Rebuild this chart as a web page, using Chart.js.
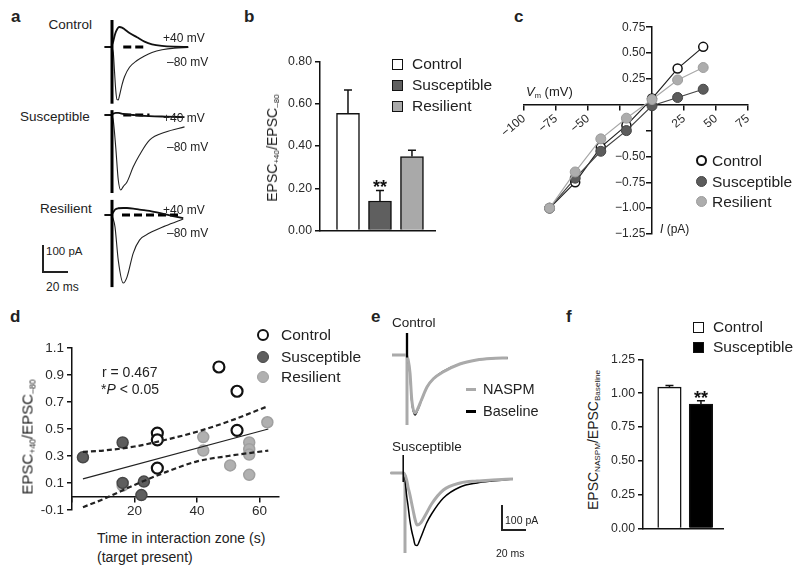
<!DOCTYPE html>
<html>
<head>
<meta charset="utf-8">
<script src="https://cdn.jsdelivr.net/npm/chart.js@4.4.0/dist/chart.umd.min.js"></script>
<style>
  * { box-sizing: border-box; }
  body { margin: 0; background: #fff; }
  #fig { position: relative; width: 800px; height: 572px; overflow: hidden;
         font-family: "Liberation Sans", Arial, sans-serif; color: #222; }
  #fig canvas { position: absolute; }
  .t { position: absolute; white-space: nowrap; line-height: 1; transform: translateY(-50%); }
  .r { transform: translate(-100%, -50%); }
  .p { font-weight: bold; font-size: 17px; }
  .rot { position: absolute; white-space: nowrap; line-height: 1; font-size: 14px; font-weight: normal;
         color: #222; transform: translate(-50%, -50%) rotate(-90deg); }
  sub { font-size: 0.58em; vertical-align: -0.3em; line-height: 0; }
  .sq { position: absolute; width: 11px; height: 11px; border: 1.5px solid #111; }
  .dot { position: absolute; width: 11px; height: 11px; border-radius: 50%; }
  .ln { position: absolute; background: #222; }
  .leg { font-size: 15.5px; }
</style>
</head>
<body>
<div id="fig">
  <!-- panel labels -->
  <div class="t p" style="left:11px;top:16px">a</div>
  <div class="t p" style="left:244px;top:16px">b</div>
  <div class="t p" style="left:514px;top:16px">c</div>
  <div class="t p" style="left:10px;top:316px">d</div>
  <div class="t p" style="left:371px;top:316px">e</div>
  <div class="t p" style="left:566px;top:316px">f</div>

  <!-- a -->
  <canvas id="chartA" width="110" height="300" style="left:95px;top:0px"></canvas>
  <div class="t" style="left:46px;top:25px;font-size:13.5px;width:46px;text-align:right;direction:rtl">Control</div>
  <div class="t" style="left:20px;top:117px;font-size:13.5px">Susceptible</div>
  <div class="t" style="left:40px;top:209px;font-size:13.5px">Resilient</div>
  <div class="t" style="left:163px;top:38px;font-size:12px">+40 mV</div>
  <div class="t" style="left:167px;top:62px;font-size:12px">–80 mV</div>
  <div class="t" style="left:163px;top:118px;font-size:12px">+40 mV</div>
  <div class="t" style="left:167px;top:147px;font-size:12px">–80 mV</div>
  <div class="t" style="left:163px;top:210px;font-size:12px">+40 mV</div>
  <div class="t" style="left:167px;top:233px;font-size:12px">–80 mV</div>
  <div class="ln" style="left:42px;top:245px;width:1.5px;height:27px"></div>
  <div class="ln" style="left:42px;top:271px;width:26px;height:1.5px"></div>
  <div class="t" style="left:46px;top:252px;font-size:11.5px">100 pA</div>
  <div class="t" style="left:46px;top:287px;font-size:12px">20 ms</div>

  <!-- b -->
  <canvas id="chartB" width="160" height="190" style="left:280px;top:51px"></canvas>
  <div class="rot" style="left:272px;top:148px">EPSC<sub>+40</sub>/EPSC<sub>–80</sub></div>
  <div class="sq" style="left:392px;top:59px;background:#fff"></div>
  <div class="sq" style="left:392px;top:80px;background:#5f5f5f"></div>
  <div class="sq" style="left:392px;top:101px;background:#a9a9a9"></div>
  <div class="t leg" style="left:412px;top:64px">Control</div>
  <div class="t leg" style="left:412px;top:85px">Susceptible</div>
  <div class="t leg" style="left:412px;top:106px">Resilient</div>

  <!-- c -->
  <canvas id="chartC" width="280" height="230" style="left:480px;top:17px"></canvas>
  <div class="t" style="left:526px;top:91px;font-size:13px"><i>V</i><sub>m</sub> (mV)</div>
  <div class="t" style="left:660px;top:229px;font-size:12px"><i>I</i> (pA)</div>
  <div class="dot" style="left:696px;top:155px;background:#fff;border:2px solid #111"></div>
  <div class="dot" style="left:696px;top:176px;background:#5c5c5c;border:1px solid #444"></div>
  <div class="dot" style="left:696px;top:196px;background:#adadad;border:1px solid #9c9c9c"></div>
  <div class="t leg" style="left:712px;top:161px">Control</div>
  <div class="t leg" style="left:712px;top:182px">Susceptible</div>
  <div class="t leg" style="left:712px;top:202px">Resilient</div>

  <!-- d -->
  <canvas id="chartD" width="250" height="184" style="left:36px;top:337px"></canvas>
  <div class="rot" style="left:27px;top:437px;font-size:15px">EPSC<sub>+40</sub>/EPSC<sub>–80</sub></div>
  <div class="t" style="left:102px;top:372px;font-size:14px">r = 0.467</div>
  <div class="t" style="left:101px;top:389px;font-size:14px">*<i>P</i> &lt; 0.05</div>
  <div class="t" style="left:97px;top:538px;font-size:14px">Time in interaction zone (s)</div>
  <div class="t" style="left:97px;top:557px;font-size:14px">(target present)</div>
  <div class="dot" style="left:257px;top:329px;width:12px;height:12px;background:#fff;border:2.2px solid #111"></div>
  <div class="dot" style="left:257px;top:351px;width:12px;height:12px;background:#5e5e5e;border:1.5px solid #474747"></div>
  <div class="dot" style="left:257px;top:371px;width:12px;height:12px;background:#b0b0b0;border:1.5px solid #a0a0a0"></div>
  <div class="t leg" style="left:281px;top:335px">Control</div>
  <div class="t leg" style="left:281px;top:357px">Susceptible</div>
  <div class="t leg" style="left:281px;top:377px">Resilient</div>

  <!-- e -->
  <canvas id="chartE" width="140" height="245" style="left:385px;top:318px"></canvas>
  <div class="t" style="left:392px;top:323px;font-size:13.5px">Control</div>
  <div class="t" style="left:392px;top:447px;font-size:13.5px">Susceptible</div>
  <div class="ln" style="left:466px;top:387.5px;width:10px;height:3px;background:#aaa"></div>
  <div class="ln" style="left:466px;top:409.5px;width:10px;height:3px;background:#000"></div>
  <div class="t" style="left:483px;top:389px;font-size:14.5px">NASPM</div>
  <div class="t" style="left:483px;top:411px;font-size:14.5px">Baseline</div>
  <div class="ln" style="left:501px;top:505px;width:1.5px;height:25px"></div>
  <div class="ln" style="left:501px;top:529px;width:25px;height:1.5px"></div>
  <div class="t" style="left:505px;top:520px;font-size:10.5px">100 pA</div>
  <div class="t" style="left:496px;top:553px;font-size:10.5px">20 ms</div>

  <!-- f -->
  <canvas id="chartF" width="125" height="190" style="left:603px;top:349px"></canvas>
  <div class="rot" style="left:593px;top:440px">EPSC<sub>NASPM</sub>/EPSC<sub>Baseline</sub></div>
  <div class="sq" style="left:693px;top:322px;background:#fff"></div>
  <div class="sq" style="left:693px;top:342px;background:#000"></div>
  <div class="t leg" style="left:713px;top:327px">Control</div>
  <div class="t leg" style="left:713px;top:347px">Susceptible</div>
</div>

<script>
// ---- a: example EPSC traces (ms, pA) ----
const aCtrlT    = [-6, -1, 1, 2, 3, 4, 5, 6, 8, 10, 14, 20, 26, 32, 40, 50, 61];
const aCtrlM80  = [0, 0, -20, -90, -160, -195, -196, -180, -140, -110, -75, -50, -33, -20, -10, -4, -2];
const aCtrlP40  = [0, 0, 20, 40, 55, 65, 72, 74, 72, 66, 52, 36, 20, 10, 4, 1, 0];
const aSuscT    = [-6, -1, 1, 3, 5, 7, 9, 12, 17, 22, 30, 43, 58];
const aSuscM80  = [0, 0, -20, -120, -240, -278, -265, -248, -192, -148, -93, -63, -44];
const aSuscP40  = [0, 0, 5, 8, 8, 6, 4, 2, 0, -2, -4, -6, -8];
const aResT     = [-6, -1, 1, 2.4, 5, 9, 12, 17, 22, 30, 43, 57];
const aResM80   = [0, 0, -15, -44, -167, -252, -230, -141, -93, -67, -40, -15];
const aResP40   = [0, 0, 10, 20, 25, 26, 26, 24, 20, 15, 2, -12];
const aArtifact = { ctrl: [100, -210], susc: [18, -289], res: [56, -267] };
const aDash     = { ctrl: [9, 28], susc: [9, 30], res: [8, 54] };

// ---- b ----
const bGroups = ['Control', 'Susceptible', 'Resilient'];
const bMeans  = [0.555, 0.14, 0.35];
const bSems   = [0.11, 0.05, 0.03];
const bStars  = ['', '**', ''];

// ---- c: I-V ----
const cVm     = [-80, -60, -40, -20, 0, 20, 40];
const cCtrl   = [-1.0, -0.75, -0.41, -0.2, 0.06, 0.35, 0.56];
const cSusc   = [-1.0, -0.71, -0.45, -0.25, -0.01, 0.07, 0.15];
const cRes    = [-1.0, -0.65, -0.33, -0.13, 0.05, 0.24, 0.36];

// ---- d: correlation ----
const dCtrlX  = [27.3, 27.3, 27.3, 47, 52.8, 52.8];
const dCtrlY  = [0.47, 0.42, 0.21, 0.96, 0.78, 0.49];
const dSuscX  = [3.5, 16.2, 16.2, 23, 22.2];
const dSuscY  = [0.29, 0.40, 0.10, 0.11, 0.01];
const dResX   = [16.2, 42, 42, 50.6, 56.7, 56.7, 56.7, 56.7, 62.5];
const dResY   = [0.08, 0.44, 0.34, 0.23, 0.40, 0.35, 0.31, 0.16, 0.55];
const dFitX   = [3.5, 62.8];
const dFitY   = [0.13, 0.50];
const dBandX  = [3.5, 10, 20, 30, 40, 50, 62.8];
const dUpper  = [0.33, 0.34, 0.37, 0.42, 0.48, 0.555, 0.67];
const dLower  = [-0.08, -0.02, 0.085, 0.18, 0.26, 0.30, 0.34];

// ---- e: NASPM traces (ms, pA) ----
const eCtrlT      = [-12.5, -1, 1, 2.5, 4, 6.7, 9, 12, 16.7, 22, 30, 44, 58, 70, 84];
const eCtrlNaspm  = [0, 0, -20, -72, -180, -232, -215, -180, -128, -95, -68, -36, -20, -14, -12];
const eCtrlBase   = [0, 0, -22, -78, -188, -240, -220, -182, -128, -95, -66, -36, -20, -14, -12];
const eSuscT      = [-12, -1, 1.5, 2.5, 4, 5.5, 7, 8.5, 10, 13, 18, 22, 32, 46, 60, 73, 90];
const eSuscNaspm  = [0, 0, -30, -56, -85, -120, -155, -188, -208, -200, -160, -125, -68, -40, -32, -28, -24];
const eSuscBase   = [0, 0, -96, -130, -188, -230, -260, -288, -290, -260, -200, -165, -100, -56, -40, -32, -24];
const eArtifact   = { ctrlGray: [88, -280], ctrlBlack: [88, -10], suscGray: [-8, -320], suscBlack: [72, -36] };

// ---- f ----
const fGroups = ['Control', 'Susceptible'];
const fMeans  = [1.045, 0.92];
const fSems   = [0.012, 0.025];
const fStars  = ['', '**'];

Chart.defaults.font.family = '"Liberation Sans", Arial, sans-serif';
Chart.defaults.color = '#2a2a2a';
Chart.defaults.animation = false;
Chart.defaults.responsive = false;
Chart.defaults.plugins.legend.display = false;
Chart.defaults.plugins.tooltip.enabled = false;

const pts = (xs, ys) => xs.map((x, i) => ({ x: x, y: ys[i] }));
const vbar = (t, ends) => [{ x: t, y: ends[0] }, { x: t, y: ends[1] }];
const hseg = (ends) => [{ x: ends[0], y: 0 }, { x: ends[1], y: 0 }];
const minus = s => String(s).replace('-', '−');

// pixel placement helpers for the trace panels (hidden axes)
function hspan(px0, lo, hi, pxPer) { return { min: (lo - px0) / pxPer, max: (hi - px0) / pxPer }; }
function vspan(base, top, bottom, pxPer) { return { min: (base - bottom) / pxPer, max: (base - top) / pxPer }; }
const hidden = r => Object.assign({ type: 'linear', display: false }, r);

function trace(data, color, width, xAxisID, yAxisID, dash) {
  return { data: data, borderColor: color, borderWidth: width, pointRadius: 0,
           cubicInterpolationMode: 'monotone', xAxisID: xAxisID, yAxisID: yAxisID,
           borderDash: dash || [], clip: false };
}

// error bars + stars drawn through the chart's own scales
const errorBars = {
  id: 'errorBars',
  afterDatasetsDraw(chart) {
    const ds = chart.data.datasets[0];
    if (!ds.sems) return;
    const meta = chart.getDatasetMeta(0);
    const ys = chart.scales.y;
    const ctx = chart.ctx;
    ctx.save();
    ctx.strokeStyle = '#111';
    ctx.lineWidth = 1.5;
    meta.data.forEach((bar, i) => {
      const top = ys.getPixelForValue(ds.data[i].y + ds.sems[i]);
      ctx.beginPath();
      ctx.moveTo(bar.x, bar.y);
      ctx.lineTo(bar.x, top);
      ctx.moveTo(bar.x - 4, top);
      ctx.lineTo(bar.x + 4, top);
      ctx.stroke();
      if (ds.stars[i]) {
        ctx.fillStyle = '#111';
        ctx.font = 'bold 18px "Liberation Sans", Arial';
        ctx.textAlign = 'center';
        ctx.textBaseline = 'alphabetic';
        ctx.fillText(ds.stars[i], bar.x, top + 3);
      }
    });
    ctx.restore();
  }
};

const axisLine = { color: '#111', width: 1.5 };
const tickGrid = { drawOnChartArea: false, drawTicks: true, tickLength: 5, color: '#111', lineWidth: 1.5 };

function barChart(id, groups, means, sems, stars, colors, xr, yr, step, thick) {
  return new Chart(document.getElementById(id), {
    type: 'bar',
    data: { datasets: [{
      data: groups.map((g, i) => ({ x: i + 1, y: means[i] })),
      sems: sems, stars: stars,
      backgroundColor: colors, borderColor: '#111', borderWidth: 1.5,
      barThickness: thick
    }] },
    options: {
      layout: { padding: { left: 0, top: 10, right: 5, bottom: 8 } },
      scales: {
        x: { type: 'linear', min: xr[0], max: xr[1], offset: false,
             ticks: { display: false }, grid: { display: false, drawTicks: false },
             border: axisLine, afterFit: s => { s.height = 0; } },
        y: { min: yr[0], max: yr[1], ticks: { stepSize: step, font: { size: 12.3 }, padding: 3,
             callback: v => v.toFixed(2) },
             grid: tickGrid, border: axisLine, afterFit: s => { s.width = 40; } }
      }
    },
    plugins: [errorBars]
  });
}

// ---- a ----
new Chart(document.getElementById('chartA'), {
  type: 'line',
  data: { datasets: [
    trace(vbar(0, aArtifact.ctrl), '#000', 3, 'x', 'yC'),
    trace(pts(aCtrlT, aCtrlP40), '#111', 1.8, 'x', 'yC'),
    trace(pts(aCtrlT, aCtrlM80), '#222', 1.1, 'x', 'yC'),
    trace(hseg(aDash.ctrl), '#000', 2.8, 'x', 'yC', [8, 4]),
    trace(vbar(0, aArtifact.susc), '#000', 3, 'x', 'yS'),
    trace(pts(aSuscT, aSuscP40), '#111', 1.8, 'x', 'yS'),
    trace(pts(aSuscT, aSuscM80), '#222', 1.1, 'x', 'yS'),
    trace(hseg(aDash.susc), '#000', 2.8, 'x', 'yS', [8, 4]),
    trace(vbar(0, aArtifact.res), '#000', 3, 'x', 'yR'),
    trace(pts(aResT, aResP40), '#111', 1.8, 'x', 'yR'),
    trace(pts(aResT, aResM80), '#222', 1.1, 'x', 'yR'),
    trace(hseg(aDash.res), '#000', 2.8, 'x', 'yR', [8, 4])
  ] },
  options: {
    layout: { padding: 0 },
    scales: {
      x: hidden(hspan(112, 95, 205, 1.25)),
      yC: hidden(vspan(47, 0, 300, 0.27)),
      yS: hidden(vspan(115, 0, 300, 0.27)),
      yR: hidden(vspan(215, 0, 300, 0.27))
    }
  }
});

// ---- b ----
barChart('chartB', bGroups, bMeans, bSems, bStars, ['#fff', '#5f5f5f', '#a9a9a9'],
         [0.125, 3.72], [0, 0.8], 0.2, 23);

// ---- c ----
// y labels sit on an axis placed at x = 0, so two trailing spaces keep them off the tick marks
new Chart(document.getElementById('chartC'), {
  type: 'line',
  data: { datasets: [
    { data: pts(cVm, cRes), borderColor: '#a8a8a8', borderWidth: 1.2, pointRadius: 5,
      pointBackgroundColor: '#adadad', pointBorderColor: '#9c9c9c', pointBorderWidth: 1 },
    { data: pts(cVm, cSusc), borderColor: '#444', borderWidth: 1.2, pointRadius: 5,
      pointBackgroundColor: '#5c5c5c', pointBorderColor: '#444', pointBorderWidth: 1 },
    { data: pts(cVm, cCtrl), borderColor: '#222', borderWidth: 1.2, pointRadius: 4.5,
      pointBackgroundColor: '#fff', pointBorderColor: '#111', pointBorderWidth: 1.5 }
  ] },
  options: {
    layout: { padding: { left: 44, top: 10, right: 12, bottom: 13 } },
    scales: {
      x: { type: 'linear', min: -100, max: 75, position: { y: 0 },
           ticks: { stepSize: 25, font: { size: 12 }, padding: 2,
                    callback: v => (v === 0 || v === -25) ? '' : minus(v) },
           grid: tickGrid, border: axisLine },
      y: { type: 'linear', min: -1.25, max: 0.75, position: { x: 0 },
           ticks: { stepSize: 0.25, font: { size: 12 }, padding: 3,
                    callback: v => (v === 0 || v === -0.25) ? '' : minus(v.toFixed(2)) + '  ' },
           grid: tickGrid, border: axisLine }
    }
  }
});

// ---- d ----
new Chart(document.getElementById('chartD'), {
  type: 'scatter',
  data: { datasets: [
    { type: 'line', data: pts(dFitX, dFitY), borderColor: '#222', borderWidth: 1.2, pointRadius: 0, order: 0 },
    { type: 'line', data: pts(dBandX, dUpper), borderColor: '#222', borderWidth: 2.2, borderDash: [5, 3],
      pointRadius: 0, cubicInterpolationMode: 'monotone', order: 0 },
    { type: 'line', data: pts(dBandX, dLower), borderColor: '#222', borderWidth: 2.2, borderDash: [5, 3],
      pointRadius: 0, cubicInterpolationMode: 'monotone', order: 0 },
    { data: pts(dCtrlX, dCtrlY), pointRadius: 5.5, pointBackgroundColor: '#fff',
      pointBorderColor: '#111', pointBorderWidth: 2.2, order: 1 },
    { data: pts(dSuscX, dSuscY), pointRadius: 5.5, pointBackgroundColor: '#5e5e5e',
      pointBorderColor: '#474747', pointBorderWidth: 1.5, order: 2 },
    { data: pts(dResX, dResY), pointRadius: 5.5, pointBackgroundColor: '#b0b0b0',
      pointBorderColor: '#a0a0a0', pointBorderWidth: 1.5, order: 3 }
  ] },
  options: {
    layout: { padding: { left: 0, top: 10, right: 5, bottom: 8 } },
    scales: {
      x: { type: 'linear', min: 0, max: 66, position: { y: 0 },
           ticks: { stepSize: 20, includeBounds: false, font: { size: 13.5 }, padding: 2,
                    callback: v => v === 0 ? '' : v },
           grid: tickGrid, border: axisLine },
      y: { type: 'linear', min: -0.1, max: 1.1,
           ticks: { stepSize: 0.2, font: { size: 13.5 }, padding: 3, callback: v => v.toFixed(1) },
           grid: tickGrid, border: axisLine, afterFit: s => { s.width = 36; } }
    }
  }
});

// ---- e ----  (first dataset is drawn on top)
new Chart(document.getElementById('chartE'), {
  type: 'line',
  data: { datasets: [
    trace(vbar(0, eArtifact.ctrlBlack), '#000', 2, 'xC', 'yC'),
    trace(pts(eCtrlT, eCtrlNaspm), '#aaa', 3, 'xC', 'yC'),
    trace(pts(eCtrlT, eCtrlBase), '#000', 1.5, 'xC', 'yC'),
    trace(vbar(0, eArtifact.ctrlGray), '#aaa', 3, 'xC', 'yC'),
    trace(vbar(-1.5, eArtifact.suscBlack), '#000', 1.5, 'xS', 'yS'),
    trace(pts(eSuscT, eSuscNaspm), '#aaa', 3, 'xS', 'yS'),
    trace(pts(eSuscT, eSuscBase), '#000', 1.5, 'xS', 'yS'),
    trace(vbar(0, eArtifact.suscGray), '#aaa', 3, 'xS', 'yS')
  ] },
  options: {
    layout: { padding: 0 },
    scales: {
      xC: hidden(hspan(407, 385, 525, 1.2)),
      xS: hidden(hspan(405, 385, 525, 1.2)),
      yC: hidden(vspan(355, 318, 563, 0.25)),
      yS: hidden(vspan(473, 318, 563, 0.25))
    }
  }
});

// ---- f ----
barChart('chartF', fGroups, fMeans, fSems, fStars, ['#fff', '#000'],
         [0.16, 2.70], [0, 1.25], 0.25, 23.5);
</script>
</body>
</html>
